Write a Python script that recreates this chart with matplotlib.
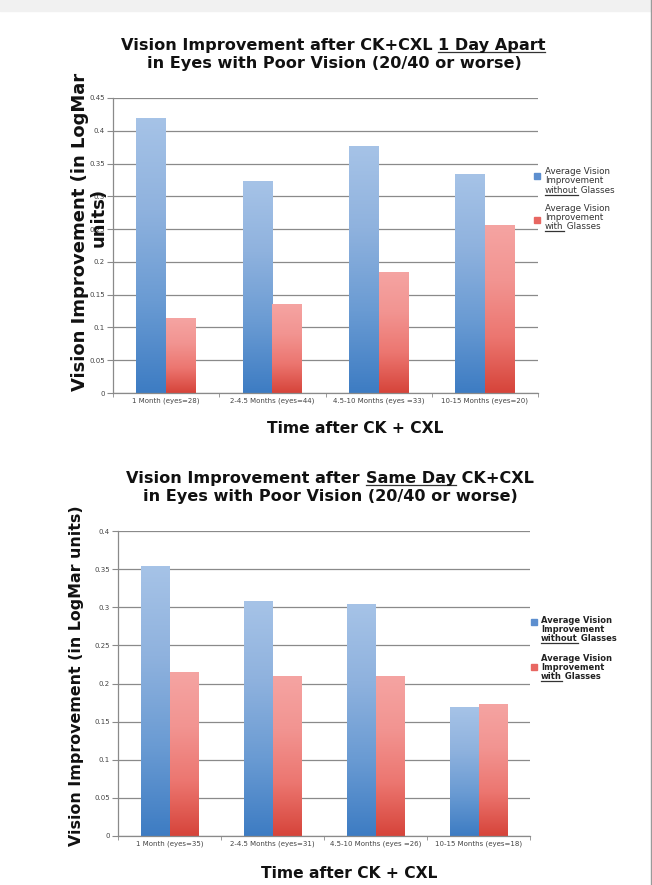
import matplotlib
matplotlib.use('Agg')
import matplotlib.pyplot as plt
import numpy as np
from matplotlib.colors import LinearSegmentedColormap
from matplotlib.lines import Line2D
from matplotlib.patches import Rectangle

W, H = 652, 885

# data read for the two panels
cats_apart = ['1 Month (eyes=28)', '2-4.5 Months (eyes=44)', '4.5-10 Months (eyes =33)', '10-15 Months (eyes=20)']
without_apart = [0.419, 0.323, 0.376, 0.334]
with_apart = [0.113, 0.135, 0.184, 0.256]

cats_same = ['1 Month (eyes=35)', '2-4.5 Months (eyes=31)', '4.5-10 Months (eyes =26)', '10-15 Months (eyes=18)']
without_same = [0.353, 0.308, 0.304, 0.169]
with_same = [0.214, 0.209, 0.209, 0.173]

blue_cm = LinearSegmentedColormap.from_list('b', ['#3d7cc3', '#6a9bd3', '#8fb2de', '#a6c3e7'])
red_cm = LinearSegmentedColormap.from_list('r', ['#d6443a', '#ec7670', '#f29491', '#f5a4a2'])
grad = np.linspace(0, 1, 256).reshape(-1, 1)

fig = plt.figure(figsize=(W / 100, H / 100), dpi=100)
renderer = fig.canvas.get_renderer()


def px(x, y):
    return x / W, (H - y) / H


def runs_text(x, y, runs, ha='center', **kw):
    # text made of pieces, some underlined; x, y = baseline position in pixels from top-left
    widths = []
    for s, ul in runs:
        t = fig.text(0, 0, s, **kw)
        widths.append(t.get_window_extent(renderer).width)
        t.remove()
    start = x - sum(widths) / 2 if ha == 'center' else x
    for (s, ul), w in zip(runs, widths):
        fig.text(*px(start, y), s, ha='left', va='baseline', **kw)
        if ul:
            t = fig.text(0, 0, s.rstrip(), **kw)
            wt = t.get_window_extent(renderer).width
            t.remove()
            (x0, y0), (x1, _) = px(start, y + 2), px(start + wt, y + 2)
            fig.add_artist(Line2D([x0, x1], [y0, y0], color='#333333', lw=0.9))
        start += w


def draw_panel(rect, cats, v_blue, v_red, ymax, tick_font):
    ax = fig.add_axes(rect)
    x = np.arange(len(cats))
    bw = 0.28
    for vals, off, cm in [(v_blue, -bw / 2, blue_cm), (v_red, bw / 2, red_cm)]:
        bars = ax.bar(x + off, vals, bw, color='none', zorder=2)
        for b in bars:
            x0, w, h = b.get_x(), b.get_width(), b.get_height()
            ax.imshow(grad, cmap=cm, origin='lower', aspect='auto',
                      extent=[x0, x0 + w, 0, h], zorder=2)
    ax.set_xlim(-0.5, len(cats) - 0.5)
    ax.set_ylim(0, ymax)
    ticks = np.round(np.arange(0, ymax + 0.001, 0.05), 2)
    ax.set_yticks(ticks)
    ax.set_yticklabels([('%g' % t) for t in ticks], fontsize=5, color='#444444')
    ax.yaxis.grid(True, color='#8a8a8a', lw=0.9)
    ax.set_axisbelow(True)
    ax.set_xticks(x)
    ax.set_xticklabels(cats, fontsize=5, color='#444444', **tick_font)
    ax.set_xticks(np.arange(-0.5, len(cats)), minor=True)
    ax.tick_params(axis='x', which='major', length=0, pad=3)
    ax.tick_params(axis='x', which='minor', length=3, color='#8a8a8a')
    ax.tick_params(axis='y', length=4, color='#8a8a8a', pad=2)
    for s in ['top', 'right']:
        ax.spines[s].set_visible(False)
    for s in ['left', 'bottom']:
        ax.spines[s].set_color('#8a8a8a')
        ax.spines[s].set_linewidth(0.9)
    return ax


# page band and edge
fig.add_artist(Rectangle((0, 1 - 11 / H), 1, 11 / H, transform=fig.transFigure,
                         color='#f1f1f1', zorder=0))
fig.add_artist(Line2D([651 / W, 651 / W], [0, 1], color='#9a9a9a', lw=1))

title_kw = dict(fontsize=11.6, fontweight='bold', color='#111111')
label_kw = dict(fontweight='bold', color='#111111')

# upper panel
draw_panel([113 / W, 1 - 393 / H, 425 / W, 295 / H], cats_apart, without_apart, with_apart, 0.45, {})
runs_text(333, 50, [('Vision Improvement after CK+CXL ', False), ('1 Day Apart', True)], **title_kw)
runs_text(334, 68, [('in Eyes with Poor Vision (20/40 or worse)', False)], **title_kw)
fig.text(*px(355, 433), 'Time after CK + CXL', ha='center', va='baseline', fontsize=11.2, **label_kw)
fig.text(*px(80, 232), 'Vision Improvement (in LogMar', rotation=90, ha='center', va='center',
         fontsize=13, **label_kw)
fig.text(*px(99, 217), 'units)', rotation=90, ha='center', va='center', fontsize=13, **label_kw)

leg_kw = dict(fontsize=6.3, color='#333333')
fig.add_artist(Rectangle(px(534, 179), 6 / W, 6 / H, transform=fig.transFigure, color='#5d8fcf'))
fig.add_artist(Rectangle(px(534, 223), 6 / W, 6 / H, transform=fig.transFigure, color='#e86762'))
runs_text(545, 174, [('Average Vision', False)], ha='left', **leg_kw)
runs_text(545, 183, [('Improvement', False)], ha='left', **leg_kw)
runs_text(545, 193, [('without', True), (' Glasses', False)], ha='left', **leg_kw)
runs_text(545, 211, [('Average Vision', False)], ha='left', **leg_kw)
runs_text(545, 220, [('Improvement', False)], ha='left', **leg_kw)
runs_text(545, 229, [('with', True), (' Glasses', False)], ha='left', **leg_kw)

# lower panel
draw_panel([118 / W, 1 - 836 / H, 412 / W, 305 / H], cats_same, without_same, with_same, 0.4,
           dict(family=['Liberation Sans Narrow', 'DejaVu Sans']))
runs_text(330, 483, [('Vision Improvement after ', False), ('Same Day', True), (' CK+CXL', False)], **title_kw)
runs_text(330, 501, [('in Eyes with Poor Vision (20/40 or worse)', False)], **title_kw)
fig.text(*px(349, 878), 'Time after CK + CXL', ha='center', va='baseline', fontsize=11.2, **label_kw)
fig.text(*px(77, 676), 'Vision Improvement (in LogMar units)', rotation=90, ha='center', va='center',
         fontsize=11.4, **label_kw)

leg_kw = dict(fontsize=6, fontweight='bold', color='#222222')
fig.add_artist(Rectangle(px(531, 625), 6 / W, 6 / H, transform=fig.transFigure, color='#5d8fcf'))
fig.add_artist(Rectangle(px(531, 670), 6 / W, 6 / H, transform=fig.transFigure, color='#e86762'))
runs_text(541, 623, [('Average Vision', False)], ha='left', **leg_kw)
runs_text(541, 632, [('Improvement', False)], ha='left', **leg_kw)
runs_text(541, 641, [('without', True), (' Glasses', False)], ha='left', **leg_kw)
runs_text(541, 661, [('Average Vision', False)], ha='left', **leg_kw)
runs_text(541, 670, [('Improvement', False)], ha='left', **leg_kw)
runs_text(541, 679, [('with', True), (' Glasses', False)], ha='left', **leg_kw)

fig.savefig('out.png', dpi=100, facecolor='white')
